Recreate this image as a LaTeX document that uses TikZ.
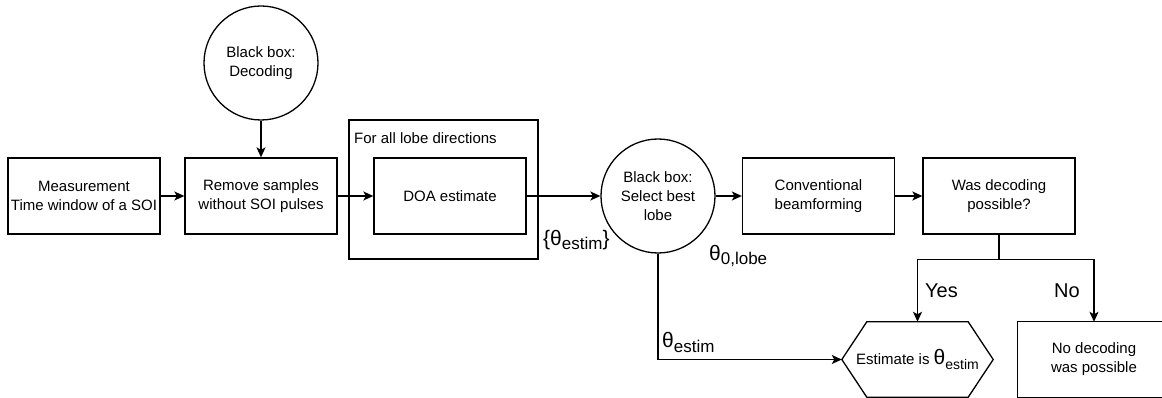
\documentclass[tikz,border=0pt]{standalone}
\usepackage{fontspec}
\setmainfont{Liberation Sans}
\usetikzlibrary{arrows.meta}
\newcommand{\thetasub}[3]{{\fontsize{21}{21}\selectfont θ}\raisebox{-#3pt}{\fontsize{#1}{#1}\selectfont #2}}
\begin{document}
\begin{tikzpicture}[x=1pt,y=-1pt,
  every node/.style={font=\fontsize{15}{19}\selectfont, align=center},
  box/.style={draw, line width=1.3pt, minimum width=152pt, minimum height=76pt, inner sep=0pt},
  circ/.style={draw, circle, line width=1.3pt, minimum size=114pt, inner sep=0pt},
  arr/.style={line width=1.3pt, -{Stealth[length=10pt,width=9pt,inset=2.5pt]}},
  ln/.style={line width=1.3pt},
  lbl/.style={inner sep=0pt, anchor=base west},
  biglbl/.style={inner sep=0pt, anchor=base west, font=\fontsize{20}{24}\selectfont}
]
\useasboundingbox (0,0) rectangle (1162,398);
\clip (0,0) rectangle (1162,398);
% nodes
\node[box] (meas) at (84,196) {Measurement\\Time window of a SOI};
\node[box] (rem) at (261,196) {Remove samples\\without SOI pulses};
\node[circ] (dec) at (261,63) {Black box:\\Decoding};
\node[draw, line width=1.3pt, minimum width=189pt, minimum height=139pt, inner sep=0pt] (outer) at (443.5,189.5) {};
\node[lbl] (forall) at (354,144) {For all lobe directions};
\node[box] (doa) at (450,196) {DOA estimate};
\node[circ] (sel) at (658,196) {Black box:\\Select best\\lobe};
\node[box] (conv) at (818.5,196) {Conventional\\beamforming};
\node[box] (was) at (999,196) {Was decoding\\possible?};
\node[minimum width=151pt, minimum height=75pt, inner sep=0pt] (hex) at (917.5,359.5) {Estimate is \thetasub{14}{estim}{5}};
\draw[ln] ([xshift=25pt]hex.north west) -- ([xshift=-25pt]hex.north east) -- (hex.east)
  -- ([xshift=-25pt]hex.south east) -- ([xshift=25pt]hex.south west) -- (hex.west) -- cycle;
\node[minimum width=152pt, minimum height=75pt, inner sep=0pt] (nobox) at (1094,359.5) {No decoding\\was possible};
\draw[ln] ([xshift=40pt]nobox.south east) -| (nobox.north west) -- ([xshift=40pt]nobox.north east);
% labels
\node[lbl] (set) at (543,245) {{\fontsize{21}{21}\selectfont\{}\thetasub{17}{estim}{5}{\fontsize{21}{21}\selectfont\}}};
\node[lbl] (lobe) at (709,260) {\thetasub{17}{0,lobe}{5}};
\node[lbl] (est) at (662,347) {\thetasub{17}{estim}{5}};
\node[biglbl] (yes) at (925,297) {Yes};
\node[biglbl] (no) at (1054,297) {No};
% connectors
\draw[arr] (meas) -- (rem);
\draw[arr] (dec) -- (rem);
\draw[arr] (rem) -- (doa);
\draw[arr] (doa) -- (sel);
\draw[arr] (sel) -- (conv);
\draw[arr] (conv) -- (was);
\draw[arr] (sel.south) |- (hex.west);
\draw[ln] (was.south) -- ++(0,25) coordinate (br);
\draw[arr] (br) -| (hex.north);
\draw[arr] (br) -| (nobox.north);
\end{tikzpicture}
\end{document}
